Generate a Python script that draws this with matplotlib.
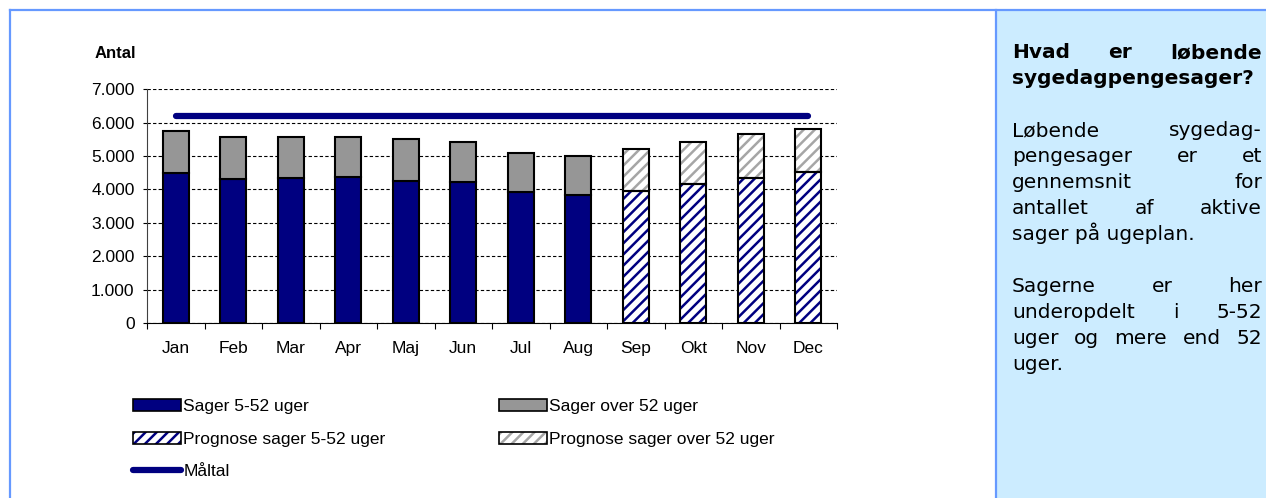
import matplotlib
matplotlib.use('Agg')
import matplotlib.pyplot as plt
from matplotlib.patches import Patch, Rectangle
from matplotlib.lines import Line2D
from matplotlib.legend_handler import HandlerTuple
import numpy as np

# data
maaneder = ['Jan', 'Feb', 'Mar', 'Apr', 'Maj', 'Jun', 'Jul', 'Aug', 'Sep', 'Okt', 'Nov', 'Dec']
sager_5_52 = [4480, 4310, 4330, 4360, 4250, 4220, 3930, 3830]
sager_over_52 = [1280, 1250, 1230, 1200, 1250, 1210, 1170, 1180]
prognose_5_52 = [3960, 4150, 4350, 4520]
prognose_over_52 = [1240, 1280, 1310, 1290]
maaltal = [6200] * 12
y_ticks = [0, 1000, 2000, 3000, 4000, 5000, 6000, 7000]
y_labels = ['0', '1.000', '2.000', '3.000', '4.000', '5.000', '6.000', '7.000']

W, H = 1266, 498
navy = '#000080'
graa = '#969696'
graa_skra = '#a6a6a6'
kant = '#6699ff'

plt.rcParams['font.family'] = ['Liberation Sans', 'DejaVu Sans']
plt.rcParams['hatch.linewidth'] = 1.8

fig = plt.figure(figsize=(W / 100, H / 100), dpi=100)
fig.patch.set_facecolor('white')

# right info panel and frame
fig.add_artist(Rectangle((996 / W, 0), (W - 996) / W, 1 - 10 / H, transform=fig.transFigure,
                         facecolor='#ccecff', edgecolor='none', zorder=0))
fig.add_artist(Line2D([996 / W, 996 / W], [0, 1 - 10 / H], transform=fig.transFigure, color=kant, lw=1.6))
fig.add_artist(Line2D([10 / W, 10 / W], [0, 1 - 10 / H], transform=fig.transFigure, color=kant, lw=1.6))
fig.add_artist(Line2D([10 / W, 1], [1 - 10 / H, 1 - 10 / H], transform=fig.transFigure, color=kant, lw=1.6))

ax = fig.add_axes([147 / W, 1 - 323 / H, 690 / W, (323 - 89.3) / H])

bw = 0.45
x_akt = np.arange(len(sager_5_52))
x_prog = np.arange(len(sager_5_52), len(maaneder))

ax.bar(x_akt, sager_5_52, bw, color=navy, edgecolor='black', linewidth=1.5, zorder=3)
ax.bar(x_akt, sager_over_52, bw, bottom=sager_5_52, color=graa, edgecolor='black', linewidth=1.5, zorder=3)

# forecast bars: hatch first, black outline on top
ax.bar(x_prog, prognose_5_52, bw, color='white', edgecolor=navy, hatch='///', linewidth=0, zorder=3)
ax.bar(x_prog, prognose_over_52, bw, bottom=prognose_5_52, color='white', edgecolor=graa_skra,
       hatch='///', linewidth=0, zorder=3)
ax.bar(x_prog, prognose_5_52, bw, fill=False, edgecolor='black', linewidth=1.5, zorder=4)
ax.bar(x_prog, prognose_over_52, bw, bottom=prognose_5_52, fill=False, edgecolor='black',
       linewidth=1.5, zorder=4)

ax.plot(np.arange(len(maaneder)), maaltal, color=navy, lw=4.5, solid_capstyle='round', zorder=5)

ax.set_xlim(-0.5, len(maaneder) - 0.5)
ax.set_ylim(0, 7000)
ax.set_yticks(y_ticks)
ax.set_yticklabels(y_labels)
ax.yaxis.grid(True, linestyle=(0, (3, 2)), color='black', lw=0.8)
ax.set_axisbelow(True)
ax.set_xticks(np.arange(-0.5, len(maaneder), 1))
ax.set_xticklabels([])
ax.set_xticks(np.arange(len(maaneder)), minor=True)
ax.set_xticklabels(maaneder, minor=True)
ax.tick_params(axis='x', which='major', length=4, width=0.8, direction='out')
ax.tick_params(axis='x', which='minor', length=0, pad=13, labelsize=12.5)
ax.tick_params(axis='y', length=3, width=0.8, pad=6, labelsize=12.5)
for s in ['top', 'right']:
    ax.spines[s].set_visible(False)
ax.spines['left'].set_color('#404040')
ax.spines['left'].set_linewidth(0.8)
ax.spines['bottom'].set_linewidth(0.8)

fig.text(115 / W, 1 - 53 / H, 'Antal', fontsize=12, fontweight='bold', ha='center', va='center')

# legend in two columns
h_akt = Patch(facecolor=navy, edgecolor='black', lw=1.2)
h_over = Patch(facecolor=graa, edgecolor='black', lw=1.2)
h_prog = (Patch(facecolor='white', edgecolor=navy, hatch='///', lw=0),
          Patch(facecolor='none', edgecolor='black', lw=1.2))
h_prog_over = (Patch(facecolor='white', edgecolor=graa_skra, hatch='///', lw=0),
               Patch(facecolor='none', edgecolor='black', lw=1.2))
h_maal = Line2D([], [], color=navy, lw=4.5, solid_capstyle='round')

faelles = dict(loc='upper left', frameon=False, fontsize=12.5, borderpad=0, borderaxespad=0,
               handlelength=2.75, handleheight=0.7, handletextpad=0.15, labelspacing=1.0,
               handler_map={tuple: HandlerTuple(ndivide=1, pad=0)})
leg1 = fig.legend([h_akt, h_prog, h_maal], ['Sager 5-52 uger', 'Prognose sager 5-52 uger', 'Måltal'],
                  bbox_to_anchor=(133 / W, 1 - 399 / H), **faelles)
leg2 = fig.legend([h_over, h_prog_over], ['Sager over 52 uger', 'Prognose sager over 52 uger'],
                  bbox_to_anchor=(499 / W, 1 - 399 / H), **faelles)

# justified text in the info panel
linjer = [
    ('Hvad er løbende', 0, True, 'bold'),
    ('sygedagpengesager?', 1, False, 'bold'),
    ('Løbende sygedag-', 3, True, 'normal'),
    ('pengesager er et', 4, True, 'normal'),
    ('gennemsnit for', 5, True, 'normal'),
    ('antallet af aktive', 6, True, 'normal'),
    ('sager på ugeplan.', 7, False, 'normal'),
    ('Sagerne er her', 9, True, 'normal'),
    ('underopdelt i 5-52', 10, True, 'normal'),
    ('uger og mere end 52', 11, True, 'normal'),
    ('uger.', 12, False, 'normal'),
]
x0, x1 = 1012, 1262
renderer = fig.canvas.get_renderer()
for tekst, nr, juster, vaegt in linjer:
    y = 1 - (58 + 26 * nr) / H
    stil = dict(fontsize=14.5, fontweight=vaegt, family='DejaVu Sans', va='baseline', ha='left')
    if not juster:
        fig.text(x0 / W, y, tekst, **stil)
        continue
    ord_ = tekst.split()
    objs = [fig.text(0, y, o, **stil) for o in ord_]
    bredder = [t.get_window_extent(renderer).width for t in objs]
    mellem = (x1 - x0 - sum(bredder)) / (len(ord_) - 1)
    x = x0
    for t, b in zip(objs, bredder):
        t.set_x(x / W)
        x += b + mellem

fig.savefig('out.png', dpi=100)
